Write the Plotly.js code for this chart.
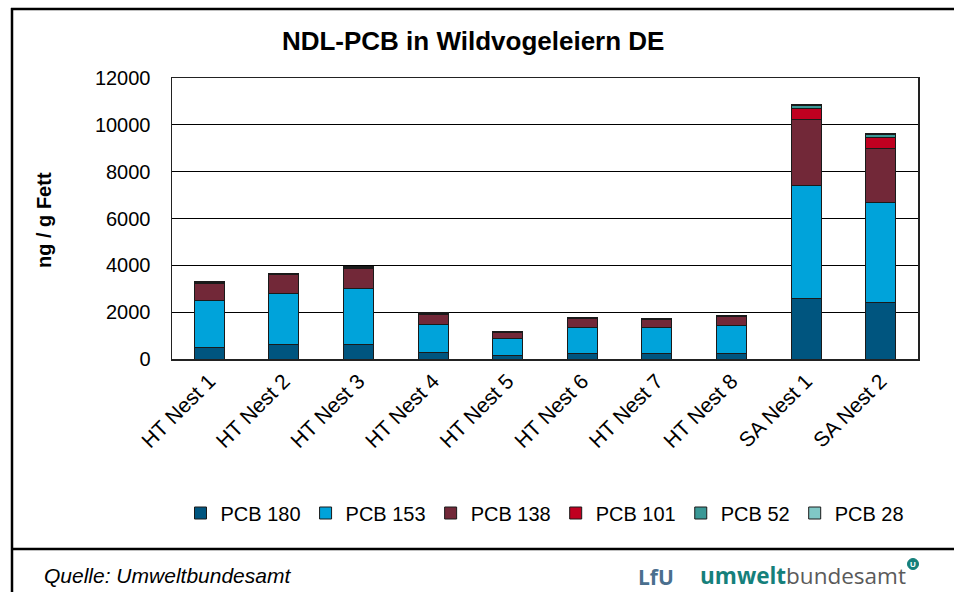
<!DOCTYPE html>
<html>
<head>
<meta charset="utf-8">
<script src="https://cdn.plot.ly/plotly-3.0.1.min.js"></script>
<style>html,body{margin:0;padding:0;background:#fff;}#chart{width:954px;height:592px;}</style>
</head>
<body>
<div id="chart"></div>
<script>
const categories = ["HT Nest 1","HT Nest 2","HT Nest 3","HT Nest 4","HT Nest 5","HT Nest 6","HT Nest 7","HT Nest 8","SA Nest 1","SA Nest 2"];
const pcb180 = [480, 600, 640, 285, 160, 240, 227, 240, 2590, 2400];
const pcb153 = [2010, 2180, 2390, 1195, 695, 1110, 1100, 1185, 4810, 4290];
const pcb138 = [750, 820, 850, 415, 265, 370, 355, 370, 2810, 2300];
const pcb101 = [40, 45, 45, 50, 35, 45, 45, 45, 500, 470];
const pcb52  = [10, 10, 10, 15, 10, 10, 10, 10, 110, 120];
const pcb28  = [5, 5, 5, 5, 5, 5, 5, 5, 35, 30];
const seriesNames = ["PCB 180","PCB 153","PCB 138","PCB 101","PCB 52","PCB 28"];
const seriesValues = [pcb180, pcb153, pcb138, pcb101, pcb52, pcb28];
const colors = ["#00557f","#00a3da","#722838","#c00020","#3a9896","#80c8c6"];

const FONT = "Liberation Sans, Arial, sans-serif";

const traces = seriesNames.map((n, i) => ({
  type: "bar",
  name: n,
  x: categories,
  y: seriesValues[i],
  marker: {color: colors[i], line: {color: "#1a1a1a", width: 1}},
  hoverinfo: "x+y+name"
}));

// pixel -> paper helpers (plot area: x 172..918, y 78..359)
const px = v => (v - 172) / 746;
const py = v => (359 - v) / 281;

const layout = {
  width: 954, height: 592,
  margin: {l: 172, r: 36, t: 78, b: 233},
  paper_bgcolor: "#fff", plot_bgcolor: "#fff",
  font: {family: FONT, color: "#000", size: 20},
  barmode: "stack",
  bargap: 0.6,
  showlegend: true,
  title: {text: "<b>NDL-PCB in Wildvogeleiern DE</b>", x: 0.496, xanchor: "center", y: 1 - 41/592, yanchor: "middle",
          font: {family: FONT, size: 26, color: "#000"}},
  xaxis: {type: "category", tickangle: -45, tickfont: {size: 21}, showline: true, linecolor: "#222", linewidth: 1.5,
          mirror: true, ticks: "", showgrid: false, fixedrange: true},
  yaxis: {range: [0, 12000], dtick: 2000, tickformat: "d", tickfont: {size: 20}, showline: true, linecolor: "#222",
          linewidth: 1.5, mirror: true, showgrid: true, gridcolor: "#000", gridwidth: 1, zeroline: false,
          ticks: "", ticklabelstandoff: 16, fixedrange: true},
  legend: {orientation: "h", x: 0.5, xanchor: "center", y: py(513), yanchor: "middle",
           font: {size: 20}, traceorder: "normal", bgcolor: "rgba(0,0,0,0)"},
  shapes: [
    {type: "line", xref: "paper", yref: "paper", x0: px(11), x1: px(960), y0: py(9), y1: py(9), line: {color: "#000", width: 2.5}},
    {type: "line", xref: "paper", yref: "paper", x0: px(12), x1: px(12), y0: py(8), y1: py(600), line: {color: "#000", width: 2.5}},
    {type: "line", xref: "paper", yref: "paper", x0: px(11), x1: px(960), y0: py(549), y1: py(549), line: {color: "#000", width: 2.5}},
    {type: "circle", xref: "paper", yref: "paper", xsizemode: "pixel", ysizemode: "pixel",
     xanchor: px(913), yanchor: py(564), x0: -5.5, x1: 5.5, y0: -5.5, y1: 5.5,
     fillcolor: "#15807b", line: {color: "#15807b", width: 1}}
  ],
  annotations: [
    {text: "<b>ng / g Fett</b>", textangle: -90, xref: "paper", yref: "paper", x: px(44), y: py(220),
     xanchor: "center", yanchor: "middle", showarrow: false, font: {size: 20}},
    {text: "<i>Quelle: Umweltbundesamt</i>", xref: "paper", yref: "paper", x: px(42), y: py(575),
     xanchor: "left", yanchor: "middle", showarrow: false, font: {size: 21}},
    {text: "<b>LfU</b>", xref: "paper", yref: "paper", x: px(636), y: py(577),
     xanchor: "left", yanchor: "middle", showarrow: false, font: {family: "Open Sans, sans-serif", size: 21, color: "#4a6f8e"}},
    {text: "<b><span style='color:#15807b'>umwelt</span></b><span style='color:#5a5a5a'>bundesamt</span>", xref: "paper", yref: "paper",
     x: px(698), y: py(575), xanchor: "left", yanchor: "middle", showarrow: false,
     font: {family: "Open Sans, sans-serif", size: 22.5, color: "#5a5a5a"}},
    {text: "<b>U</b>", xref: "paper", yref: "paper", x: px(913), y: py(564.5), xanchor: "center", yanchor: "middle",
     showarrow: false, font: {family: FONT, size: 8, color: "#fff"}}
  ]
};

Plotly.newPlot("chart", traces, layout, {displayModeBar: false, staticPlot: true});
</script>
</body>
</html>
